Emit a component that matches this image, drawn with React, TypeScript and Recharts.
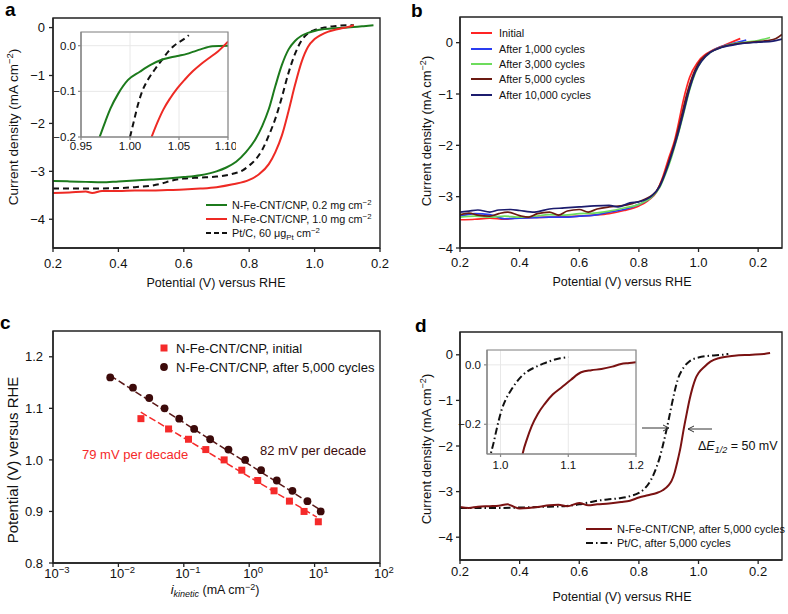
import React from "react";
import {
  LineChart,
  ComposedChart,
  Line,
  Scatter,
  XAxis,
  YAxis,
  CartesianGrid,
} from "recharts";

type P = { x: number; y: number };
const pts = (arr: number[][]): P[] => arr.map(([x, y]) => ({ x, y }));
const zip = (xs: number[], ys: number[]): P[] => xs.map((x, i) => ({ x, y: ys[i] }));

const FONT = "'Liberation Sans', Arial, Helvetica, sans-serif";
const AX = "#222";
const TXT = "#111";

// ---------- shared tick labels ----------
const X_TICKS = [0.2, 0.4, 0.6, 0.8, 1.0, 1.2];
const X_TICK_LABELS = ["0.2", "0.4", "0.6", "0.8", "1.0", "0.2"];
const Y_TICKS = [-4, -3, -2, -1, 0];

// ---------- panel a ----------
const A_GREEN = pts([
  [0.2, -3.2], [0.25, -3.21], [0.3, -3.22], [0.35, -3.23], [0.4, -3.21], [0.45, -3.19],
  [0.5, -3.17], [0.55, -3.15], [0.6, -3.12], [0.65, -3.08], [0.7, -3.0], [0.73, -2.92],
  [0.76, -2.8], [0.79, -2.6], [0.82, -2.32], [0.84, -2.05], [0.86, -1.7], [0.88, -1.22],
  [0.9, -0.78], [0.92, -0.46], [0.94, -0.28], [0.96, -0.17], [0.98, -0.11], [1.0, -0.07],
  [1.02, -0.04], [1.05, -0.02], [1.1, 0.0], [1.15, 0.03], [1.18, 0.05],
]);
const A_RED = pts([
  [0.2, -3.45], [0.25, -3.44], [0.3, -3.42], [0.32, -3.45], [0.35, -3.41], [0.4, -3.41],
  [0.45, -3.4], [0.5, -3.4], [0.55, -3.39], [0.6, -3.38], [0.65, -3.36], [0.7, -3.33],
  [0.75, -3.27], [0.8, -3.18], [0.83, -3.06], [0.86, -2.85], [0.88, -2.6], [0.9, -2.25],
  [0.92, -1.75], [0.94, -1.2], [0.96, -0.72], [0.98, -0.4], [1.0, -0.24], [1.02, -0.15],
  [1.04, -0.09], [1.06, -0.05], [1.08, -0.02], [1.1, 0.01], [1.12, 0.05],
]);
const A_PT = pts([
  [0.2, -3.36], [0.3, -3.36], [0.4, -3.35], [0.45, -3.33], [0.5, -3.3], [0.53, -3.26],
  [0.56, -3.2], [0.6, -3.15], [0.65, -3.13], [0.7, -3.11], [0.75, -3.05], [0.78, -2.98],
  [0.8, -2.88], [0.82, -2.75], [0.84, -2.55], [0.86, -2.25], [0.88, -1.9], [0.9, -1.45],
  [0.92, -0.95], [0.94, -0.55], [0.96, -0.27], [0.98, -0.12], [1.0, -0.05], [1.03, 0.0],
  [1.06, 0.03], [1.1, 0.05], [1.12, 0.05],
]);
const AI_X_TICKS = [0.95, 1.0, 1.05, 1.1];
const AI_Y_TICKS = [-0.2, -0.1, 0.0];
const AI_GREEN = pts([
  [0.969, -0.2], [0.975, -0.165], [0.98, -0.138], [0.988, -0.105], [0.998, -0.075],
  [1.01, -0.057], [1.021, -0.042], [1.031, -0.032], [1.041, -0.026], [1.05, -0.022],
  [1.058, -0.018], [1.065, -0.013], [1.072, -0.008], [1.084, -0.001], [1.1, 0.0],
]);
const AI_PT = pts([
  [1.0, -0.2], [1.004, -0.165], [1.008, -0.13], [1.013, -0.097], [1.019, -0.072],
  [1.026, -0.05], [1.033, -0.03], [1.039, -0.013], [1.045, 0.0], [1.051, 0.009],
  [1.056, 0.016], [1.06, 0.023],
]);
const AI_RED = pts([
  [1.022, -0.2], [1.028, -0.168], [1.034, -0.14], [1.041, -0.115], [1.048, -0.094],
  [1.056, -0.074], [1.064, -0.056], [1.072, -0.041], [1.08, -0.028], [1.09, -0.012],
  [1.1, 0.009],
]);

// ---------- panel b ----------
const B_INITIAL = pts([
  [0.2, -3.45], [0.25, -3.44], [0.3, -3.42], [0.35, -3.44], [0.4, -3.41], [0.5, -3.4],
  [0.6, -3.38], [0.65, -3.36], [0.7, -3.33], [0.75, -3.27], [0.8, -3.18], [0.83, -3.08],
  [0.86, -2.9], [0.88, -2.62], [0.9, -2.25], [0.92, -1.9], [0.93, -1.65], [0.95, -1.1],
  [0.97, -0.68], [1.0, -0.36], [1.05, -0.14], [1.09, -0.04], [1.14, 0.08],
]);
const B_1000 = pts([
  [0.2, -3.38], [0.25, -3.33], [0.3, -3.35], [0.35, -3.43], [0.4, -3.42], [0.45, -3.41],
  [0.5, -3.4], [0.55, -3.4], [0.6, -3.38], [0.65, -3.36], [0.7, -3.3], [0.75, -3.25],
  [0.8, -3.15], [0.84, -3.02], [0.87, -2.8], [0.89, -2.52], [0.91, -2.17], [0.93, -1.78],
  [0.95, -1.32], [0.97, -0.87], [0.99, -0.54], [1.01, -0.34], [1.04, -0.18], [1.08, -0.07],
  [1.12, -0.01], [1.16, 0.05],
]);
const B_3000 = pts([
  [0.2, -3.4], [0.25, -3.38], [0.3, -3.4], [0.35, -3.38], [0.4, -3.4], [0.45, -3.38],
  [0.5, -3.35], [0.55, -3.36], [0.6, -3.33], [0.65, -3.32], [0.7, -3.28], [0.75, -3.22],
  [0.8, -3.15], [0.84, -3.02], [0.87, -2.82], [0.89, -2.55], [0.91, -2.22], [0.93, -1.82],
  [0.95, -1.38], [0.97, -0.92], [0.99, -0.58], [1.01, -0.36], [1.04, -0.19], [1.08, -0.08],
  [1.12, -0.02], [1.16, 0.01], [1.2, 0.04], [1.24, 0.1],
]);
const B_5000 = pts([
  [0.2, -3.35], [0.23, -3.32], [0.26, -3.36], [0.3, -3.38], [0.33, -3.33], [0.36, -3.3],
  [0.4, -3.37], [0.43, -3.4], [0.46, -3.33], [0.5, -3.3], [0.53, -3.36], [0.56, -3.28],
  [0.6, -3.25], [0.63, -3.3], [0.66, -3.24], [0.7, -3.2], [0.74, -3.18], [0.78, -3.13],
  [0.82, -3.05], [0.86, -2.88], [0.88, -2.65], [0.9, -2.32], [0.92, -1.95], [0.94, -1.5],
  [0.96, -1.02], [0.98, -0.65], [1.0, -0.4], [1.03, -0.22], [1.07, -0.1], [1.12, -0.03],
  [1.18, 0.01], [1.23, 0.04], [1.26, 0.08], [1.28, 0.16],
]);
const B_10000 = pts([
  [0.2, -3.3], [0.23, -3.28], [0.26, -3.26], [0.3, -3.3], [0.33, -3.26], [0.37, -3.25],
  [0.4, -3.27], [0.45, -3.3], [0.5, -3.24], [0.55, -3.22], [0.6, -3.2], [0.65, -3.18],
  [0.7, -3.17], [0.73, -3.2], [0.77, -3.12], [0.8, -3.1], [0.84, -3.0], [0.87, -2.8],
  [0.89, -2.52], [0.91, -2.18], [0.93, -1.8], [0.95, -1.35], [0.97, -0.9], [0.99, -0.56],
  [1.01, -0.36], [1.04, -0.19], [1.08, -0.09], [1.13, -0.03], [1.2, 0.01], [1.25, 0.03],
  [1.28, 0.07],
]);

// ---------- panel c ----------
const C_INIT_X = [0.0221, 0.0585, 0.118, 0.217, 0.414, 0.77, 1.35, 2.4, 4.12, 6.9, 11.4];
const C_INIT_Y = [1.08, 1.06, 1.04, 1.02, 1.0, 0.98, 0.96, 0.94, 0.92, 0.9, 0.88];
const C_CYC_X = [0.0075, 0.0167, 0.0296, 0.0508, 0.085, 0.144, 0.253, 0.482, 0.867, 1.52, 2.64, 4.58, 7.77, 12.4];
const C_CYC_Y = [1.16, 1.14, 1.12, 1.1, 1.08, 1.06, 1.04, 1.02, 1.0, 0.98, 0.96, 0.94, 0.92, 0.9];
const C_FIT_INIT = pts([[0.022, 1.0925], [10.8, 0.889]]);
const C_FIT_CYC = pts([[0.0075, 1.1635], [12.9, 0.901]]);
const C_X_TICKS = [0.001, 0.01, 0.1, 1, 10, 100];
const C_Y_TICKS = [0.8, 0.9, 1.0, 1.1, 1.2];

// ---------- panel d ----------
const D_NFE = pts([
  [0.2, -3.34], [0.23, -3.36], [0.26, -3.33], [0.3, -3.32], [0.33, -3.31], [0.36, -3.28],
  [0.38, -3.33], [0.4, -3.37], [0.43, -3.36], [0.46, -3.34], [0.5, -3.3], [0.53, -3.29],
  [0.56, -3.32], [0.6, -3.25], [0.63, -3.3], [0.66, -3.28], [0.7, -3.26], [0.74, -3.23],
  [0.77, -3.2], [0.8, -3.13], [0.83, -3.08], [0.86, -3.03], [0.88, -2.97], [0.9, -2.86],
  [0.91, -2.76], [0.92, -2.58], [0.93, -2.32], [0.94, -2.02], [0.95, -1.64], [0.96, -1.3],
  [0.97, -0.98], [0.98, -0.72], [0.99, -0.52], [1.0, -0.4], [1.02, -0.26], [1.04, -0.15],
  [1.07, -0.07], [1.12, -0.02], [1.18, 0.0], [1.22, 0.02], [1.24, 0.04],
]);
const D_PT = pts([
  [0.2, -3.36], [0.3, -3.36], [0.4, -3.35], [0.5, -3.33], [0.55, -3.32], [0.6, -3.28],
  [0.63, -3.24], [0.66, -3.2], [0.7, -3.17], [0.74, -3.14], [0.77, -3.1], [0.8, -3.03],
  [0.82, -2.93], [0.84, -2.75], [0.86, -2.45], [0.87, -2.25], [0.88, -2.0], [0.89, -1.72],
  [0.9, -1.42], [0.91, -1.1], [0.92, -0.8], [0.93, -0.55], [0.95, -0.28], [0.97, -0.14],
  [1.0, -0.06], [1.04, -0.02], [1.08, 0.0], [1.1, 0.02],
]);
const DI_X_TICKS = [1.0, 1.1, 1.2];
const DI_Y_TICKS = [-0.2, 0.0];
const DI_PT = pts([
  [0.983, -0.33], [0.986, -0.296], [0.99, -0.26], [0.993, -0.229], [0.997, -0.19],
  [1.002, -0.149], [1.008, -0.115], [1.015, -0.087], [1.023, -0.06], [1.032, -0.036],
  [1.041, -0.02], [1.051, -0.008], [1.063, 0.004], [1.076, 0.015], [1.088, 0.022], [1.1, 0.026],
]);
const DI_NFE = pts([
  [1.031, -0.32], [1.033, -0.296], [1.039, -0.25], [1.046, -0.206], [1.055, -0.165],
  [1.065, -0.132], [1.077, -0.1], [1.09, -0.076], [1.104, -0.05], [1.119, -0.025],
  [1.134, -0.018], [1.149, -0.014], [1.165, -0.006], [1.178, 0.003], [1.19, 0.006], [1.2, 0.009],
]);

// ---------- colours ----------
const GREEN = "#1c7a1c";
const RED = "#ee2a24";
const B_COLORS = ["#ff2424", "#2a3cf0", "#6ddc5c", "#6b1a12", "#1c1c6e"];
const C_RED = "#f52a2a";
const C_DARK = "#3c0a0a";
const C_FITDARK = "#5a1818";
const D_DARK = "#7a1212";

const minus = (s: string) => s.replace("-", "\u2212");
const yLab = (v: number) => minus(String(v));
const xLab = (_v: number, i: number) => X_TICK_LABELS[i];
const axisStyle = { stroke: AX, strokeWidth: 1.3 };
const insetAxis = { stroke: "#888", strokeWidth: 1.2 };
const tick13 = { fontSize: 13, fill: TXT };
const tickInset = { fontSize: 11.5, fill: TXT };

const PowTick = (props: any) => {
  const { x, y, payload } = props;
  const e = Math.round(Math.log10(payload.value));
  return (
    <text x={x + 4} y={y + 11} textAnchor="middle" fontSize={13} fill={TXT}>
      10
      <tspan dy={-5.5} fontSize={9.5}>{e < 0 ? "\u2212" + -e : String(e)}</tspan>
    </text>
  );
};

const Square = (props: any) => {
  const { cx, cy } = props;
  return <rect x={cx - 3.5} y={cy - 3.5} width={7} height={7} fill={C_RED} />;
};
const Dot = (props: any) => {
  const { cx, cy } = props;
  return <circle cx={cx} cy={cy} r={3.9} fill={C_DARK} />;
};

function PanelA() {
  return (
    <LineChart width={394} height={307} margin={{ top: 18, right: 14, bottom: 9, left: 0 }}>
      <XAxis dataKey="x" type="number" domain={[0.2, 1.2]} ticks={X_TICKS} tickFormatter={xLab}
        height={50} tickSize={4} tickMargin={7} tick={tick13} axisLine={axisStyle} tickLine={axisStyle} allowDataOverflow />
      <YAxis type="number" domain={[-4.6, 0.2]} ticks={Y_TICKS} tickFormatter={yLab}
        width={53} tickSize={4} tickMargin={4} tick={tick13} axisLine={axisStyle} tickLine={axisStyle} allowDataOverflow />
      <Line data={A_PT} dataKey="y" type="monotone" stroke="#111" strokeWidth={2} strokeDasharray="6 4" dot={false} isAnimationActive={false} />
      <Line data={A_GREEN} dataKey="y" type="monotone" stroke={GREEN} strokeWidth={2} dot={false} isAnimationActive={false} />
      <Line data={A_RED} dataKey="y" type="monotone" stroke={RED} strokeWidth={2} dot={false} isAnimationActive={false} />
    </LineChart>
  );
}

function InsetA() {
  return (
    <LineChart width={196} height={127} margin={{ top: 2, right: 8, bottom: 0, left: 0 }}>
      <CartesianGrid stroke="#e8e8e8" fill="#fff" />
      <XAxis dataKey="x" type="number" domain={[0.95, 1.1]} ticks={AI_X_TICKS} tickFormatter={(v: number) => v.toFixed(2)}
        height={20} tickSize={3} tickMargin={2} tick={tickInset} axisLine={insetAxis} tickLine={insetAxis} allowDataOverflow />
      <YAxis type="number" domain={[-0.2, 0.03]} ticks={AI_Y_TICKS} tickFormatter={(v: number) => minus(v.toFixed(1))}
        width={41} tickSize={3} tickMargin={2} tick={tickInset} axisLine={insetAxis} tickLine={insetAxis} allowDataOverflow />
      <Line data={AI_PT} dataKey="y" type="monotone" stroke="#111" strokeWidth={2} strokeDasharray="6 4" dot={false} isAnimationActive={false} />
      <Line data={AI_GREEN} dataKey="y" type="monotone" stroke={GREEN} strokeWidth={2} dot={false} isAnimationActive={false} />
      <Line data={AI_RED} dataKey="y" type="monotone" stroke={RED} strokeWidth={2} dot={false} isAnimationActive={false} />
    </LineChart>
  );
}

function PanelB() {
  const series = [B_INITIAL, B_1000, B_3000, B_5000, B_10000];
  return (
    <LineChart width={394} height={307} margin={{ top: 17, right: 6, bottom: 9, left: 0 }}>
      <XAxis dataKey="x" type="number" domain={[0.2, 1.28]} ticks={X_TICKS} tickFormatter={xLab}
        height={50} tickSize={4} tickMargin={6} tick={tick13} axisLine={axisStyle} tickLine={axisStyle} allowDataOverflow />
      <YAxis type="number" domain={[-4, 0.5]} ticks={Y_TICKS} tickFormatter={yLab}
        width={66} tickSize={4} tickMargin={3} tick={tick13} axisLine={axisStyle} tickLine={axisStyle} allowDataOverflow />
      {series.map((s, i) => (
        <Line key={i} data={s} dataKey="y" type="monotone" stroke={B_COLORS[i]} strokeWidth={1.7} dot={false} isAnimationActive={false} />
      ))}
    </LineChart>
  );
}

function PanelC() {
  return (
    <ComposedChart width={394} height={307} margin={{ top: 24, right: 14, bottom: 9, left: 0 }}>
      <XAxis dataKey="x" type="number" scale="log" domain={[0.001, 100]} ticks={C_X_TICKS} tick={<PowTick />}
        height={42} tickSize={4} tickMargin={0} axisLine={axisStyle} tickLine={axisStyle} allowDataOverflow />
      <YAxis dataKey="y" type="number" domain={[0.8, 1.25]} ticks={C_Y_TICKS} tickFormatter={(v: number) => v.toFixed(1)}
        width={53} tickSize={4} tickMargin={6} tick={tick13} axisLine={axisStyle} tickLine={axisStyle} allowDataOverflow />
      <Line data={C_FIT_CYC} dataKey="y" type="linear" stroke={C_FITDARK} strokeWidth={1.5} strokeDasharray="7 3" dot={false} isAnimationActive={false} />
      <Line data={C_FIT_INIT} dataKey="y" type="linear" stroke={C_RED} strokeWidth={1.5} strokeDasharray="7 3" dot={false} isAnimationActive={false} />
      <Scatter data={zip(C_CYC_X, C_CYC_Y)} shape={<Dot />} isAnimationActive={false} />
      <Scatter data={zip(C_INIT_X, C_INIT_Y)} shape={<Square />} isAnimationActive={false} />
    </ComposedChart>
  );
}

function PanelD() {
  return (
    <LineChart width={394} height={307} margin={{ top: 25, right: 6, bottom: 9, left: 0 }}>
      <XAxis dataKey="x" type="number" domain={[0.2, 1.28]} ticks={X_TICKS} tickFormatter={xLab}
        height={45} tickSize={4} tickMargin={3} tick={tick13} axisLine={axisStyle} tickLine={axisStyle} allowDataOverflow />
      <YAxis type="number" domain={[-4.5, 0.5]} ticks={Y_TICKS} tickFormatter={yLab}
        width={66} tickSize={4} tickMargin={3} tick={tick13} axisLine={axisStyle} tickLine={axisStyle} allowDataOverflow />
      <Line data={D_PT} dataKey="y" type="monotone" stroke="#111" strokeWidth={2} strokeDasharray="7 3 1.5 3" dot={false} isAnimationActive={false} />
      <Line data={D_NFE} dataKey="y" type="monotone" stroke={D_DARK} strokeWidth={2} dot={false} isAnimationActive={false} />
    </LineChart>
  );
}

function InsetD() {
  return (
    <LineChart width={204} height={128} margin={{ top: 2, right: 8, bottom: 0, left: 0 }}>
      <CartesianGrid stroke="#e8e8e8" fill="#fff" />
      <XAxis dataKey="x" type="number" domain={[0.98, 1.2]} ticks={DI_X_TICKS} tickFormatter={(v: number) => v.toFixed(1)}
        height={22} tickSize={3} tickMargin={4} tick={tickInset} axisLine={insetAxis} tickLine={insetAxis} allowDataOverflow />
      <YAxis type="number" domain={[-0.3, 0.05]} ticks={DI_Y_TICKS} tickFormatter={(v: number) => minus(v.toFixed(1))}
        width={47} tickSize={3} tickMargin={3} tick={tickInset} axisLine={insetAxis} tickLine={insetAxis} allowDataOverflow />
      <Line data={DI_PT} dataKey="y" type="monotone" stroke="#111" strokeWidth={2} strokeDasharray="7 3 1.5 3" dot={false} isAnimationActive={false} />
      <Line data={DI_NFE} dataKey="y" type="monotone" stroke={D_DARK} strokeWidth={2} dot={false} isAnimationActive={false} />
    </LineChart>
  );
}

const CurrentTitle = ({ x, y, fs }: { x: number; y: number; fs: number }) => (
  <text transform={`translate(${x},${y}) rotate(-90)`} textAnchor="middle" fontSize={fs} fill={TXT}>
    Current density (mA cm
    <tspan dy={-fs * 0.4} fontSize={fs * 0.7}>{"\u22122"}</tspan>
    <tspan dy={fs * 0.4}>)</tspan>
  </text>
);

// axes boxes: [left, top, right, bottom]
const BOXES: { b: number[]; c: string; w: number }[] = [
  { b: [53, 18, 380, 248], c: AX, w: 1.4 },
  { b: [460, 17, 782, 248], c: AX, w: 1.4 },
  { b: [53, 331, 380, 563], c: AX, w: 1.4 },
  { b: [460, 332, 782, 560], c: AX, w: 1.4 },
  { b: [81, 32, 228, 137], c: "#888", w: 1.2 },
  { b: [487, 350, 636, 454], c: "#888", w: 1.2 },
];

function Overlay() {
  const aRows = [205, 219, 233];
  const bRows = [33, 49, 64, 79, 95];
  const bNames = ["Initial", "After 1,000 cycles", "After 3,000 cycles", "After 5,000 cycles", "After 10,000 cycles"];
  const lf = 10.8;
  return (
    <svg width={788} height={614} viewBox="0 0 788 614" style={{ position: "absolute", left: 0, top: 0, pointerEvents: "none", zIndex: 10 }} fontFamily={FONT}>
      {BOXES.map((f, i) => {
        const [l, t, r, bt] = f.b;
        return (
          <path key={i} d={`M${l},${bt} L${l},${t} L${r},${t} L${r},${bt} Z`} fill="none" stroke={f.c} strokeWidth={f.w} />
        );
      })}
      {/* panel letters */}
      <text x={5} y={16} fontSize={19} fontWeight="bold" fill="#000">a</text>
      <text x={411} y={17} fontSize={19} fontWeight="bold" fill="#000">b</text>
      <text x={0} y={329} fontSize={19} fontWeight="bold" fill="#000">c</text>
      <text x={415} y={332} fontSize={19} fontWeight="bold" fill="#000">d</text>

      {/* panel a titles */}
      <CurrentTitle x={18} y={127} fs={13.5} />
      <text x={216} y={287} textAnchor="middle" fontSize={12.5} fill={TXT}>Potential (V) versus RHE</text>
      {/* panel a legend */}
      <line x1={206} x2={227} y1={aRows[0]} y2={aRows[0]} stroke={GREEN} strokeWidth={2} />
      <line x1={206} x2={227} y1={aRows[1]} y2={aRows[1]} stroke={RED} strokeWidth={2} />
      <line x1={206} x2={227} y1={aRows[2]} y2={aRows[2]} stroke="#111" strokeWidth={2} strokeDasharray="5 3" />
      <text x={232} y={aRows[0] + 3.8} fontSize={lf} fill={TXT}>
        N-Fe-CNT/CNP, 0.2 mg cm<tspan dy={-4} fontSize={lf * 0.72}>{"\u22122"}</tspan>
      </text>
      <text x={232} y={aRows[1] + 3.8} fontSize={lf} fill={TXT}>
        N-Fe-CNT/CNP, 1.0 mg cm<tspan dy={-4} fontSize={lf * 0.72}>{"\u22122"}</tspan>
      </text>
      <text x={232} y={aRows[2] + 3.8} fontSize={lf} fill={TXT}>
        Pt/C, 60 {"\u03bc"}g<tspan dy={3} fontSize={lf * 0.72}>Pt</tspan>
        <tspan dy={-3}> cm</tspan>
        <tspan dy={-4} fontSize={lf * 0.72}>{"\u22122"}</tspan>
      </text>

      {/* panel b */}
      <CurrentTitle x={431} y={131} fs={13} />
      <text x={622} y={286} textAnchor="middle" fontSize={12.5} fill={TXT}>Potential (V) versus RHE</text>
      {bRows.map((r, i) => (
        <g key={i}>
          <line x1={471} x2={492} y1={r} y2={r} stroke={B_COLORS[i]} strokeWidth={2} />
          <text x={499} y={r + 3.8} fontSize={lf} fill={TXT}>{bNames[i]}</text>
        </g>
      ))}

      {/* panel c */}
      <text transform="translate(18,460) rotate(-90)" textAnchor="middle" fontSize={15} fill={TXT}>Potential (V) versus RHE</text>
      <text x={215} y={594} textAnchor="middle" fontSize={12.5} fill={TXT}>
        <tspan fontStyle="italic" fontSize={13}>i</tspan>
        <tspan fontStyle="italic" fontSize={9} dy={3}>kinetic</tspan>
        <tspan dy={-3}> (mA cm</tspan>
        <tspan dy={-4.5} fontSize={9}>{"\u22122"}</tspan>
        <tspan dy={4.5}>)</tspan>
      </text>
      <rect x={160.5} y={344.5} width={7} height={7} fill={C_RED} />
      <circle cx={164} cy={367} r={3.9} fill={C_DARK} />
      <text x={176} y={352.5} fontSize={13} fill={TXT}>N-Fe-CNT/CNP, initial</text>
      <text x={176} y={371.5} fontSize={13} fill={TXT}>N-Fe-CNT/CNP, after 5,000 cycles</text>
      <text x={82} y={459} fontSize={13} fill={C_RED}>79 mV per decade</text>
      <text x={260} y={455} fontSize={13} fill={C_DARK}>82 mV per decade</text>

      {/* panel d */}
      <CurrentTitle x={431} y={449} fs={13} />
      <text x={622} y={601} textAnchor="middle" fontSize={12.5} fill={TXT}>Potential (V) versus RHE</text>
      <line x1={586} x2={612} y1={529} y2={529} stroke={D_DARK} strokeWidth={2} />
      <line x1={586} x2={612} y1={543} y2={543} stroke="#111" strokeWidth={2} strokeDasharray="7 3 1.5 3" />
      <text x={617} y={532.8} fontSize={11} fill={TXT}>N-Fe-CNT/CNP, after 5,000 cycles</text>
      <text x={617} y={546.8} fontSize={11} fill={TXT}>Pt/C, after 5,000 cycles</text>
      <line x1={642} x2={669} y1={428} y2={428} stroke="#333" strokeWidth={1} />
      <polyline points="663,425 669,428 663,431" fill="none" stroke="#333" strokeWidth={1} />
      <line x1={688} x2={712} y1={429} y2={429} stroke="#333" strokeWidth={1} />
      <polyline points="694,426 688,429 694,432" fill="none" stroke="#333" strokeWidth={1} />
      <text x={698} y={450} fontSize={12.5} fill={TXT}>
        {"\u0394"}<tspan fontStyle="italic">E</tspan>
        <tspan fontStyle="italic" fontSize={9} dy={3}>1/2</tspan>
        <tspan dy={-3}> = 50 mV</tspan>
      </text>
    </svg>
  );
}

export default function App() {
  return (
    <div style={{ position: "absolute", left: 0, top: 0, width: 788, height: 614, background: "#fff", fontFamily: FONT, overflow: "hidden" }}>
      <div style={{ position: "absolute", left: 0, top: 0 }}><PanelA /></div>
      <div style={{ position: "absolute", left: 40, top: 30 }}><InsetA /></div>
      <div style={{ position: "absolute", left: 394, top: 0 }}><PanelB /></div>
      <div style={{ position: "absolute", left: 0, top: 307 }}><PanelC /></div>
      <div style={{ position: "absolute", left: 394, top: 307 }}><PanelD /></div>
      <div style={{ position: "absolute", left: 440, top: 348 }}><InsetD /></div>
      <Overlay />
    </div>
  );
}
